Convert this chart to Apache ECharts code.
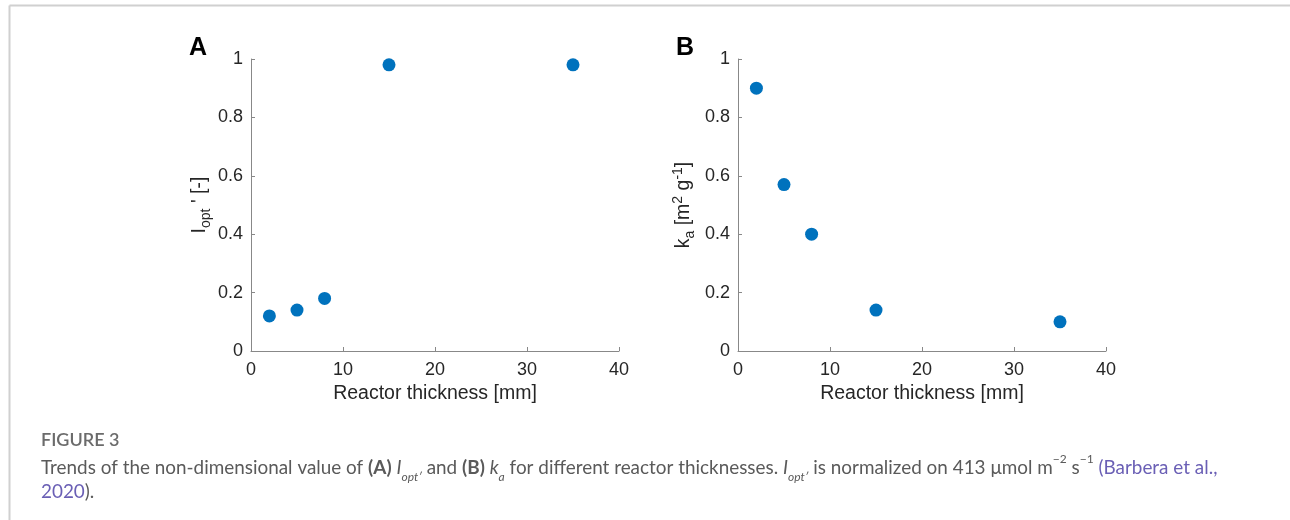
<!DOCTYPE html>
<html lang="en">
<head>
    <meta charset="UTF-8">
    <title>Figure 3</title>
    <script src="https://cdn.jsdelivr.net/npm/echarts@6/dist/echarts.min.js"></script>
    <style>
        body { margin: 0; background: #fff; }
    </style>
</head>
<body>
    <div id="main" style="width: 1290px; height: 520px;"></div>
</body>
</html>

<script>
    var chartDom = document.querySelector('#main')
    const myChart = echarts.init(chartDom)

// 反应器厚度 [mm]
var thickness = [2, 5, 8, 15, 35];
// (A) I_opt'
var iOpt = [0.12, 0.14, 0.18, 0.98, 0.98];
// (B) k_a
var kA = [0.9, 0.57, 0.4, 0.14, 0.1];

var xTicks = [0, 10, 20, 30, 40];
var yTicks = [0, 0.2, 0.4, 0.6, 0.8, 1];

function pairs(xs, ys) {
    var out = [];
    for (var i = 0; i < xs.length; i++) out.push([xs[i], ys[i]]);
    return out;
}

var axisColor = '#888';
var labelColor = '#262626';
var font = 'Liberation Sans, Arial, sans-serif';

function xAxisOf(idx) {
    return {
        gridIndex: idx,
        type: 'value',
        min: xTicks[0],
        max: xTicks[xTicks.length - 1],
        interval: 10,
        name: 'Reactor thickness [mm]',
        nameLocation: 'middle',
        nameGap: 33,
        nameTextStyle: { color: labelColor, fontSize: 19.5, fontFamily: font },
        axisLine: { show: true, lineStyle: { color: axisColor, width: 1 } },
        axisTick: { show: true, inside: true, length: 4, lineStyle: { color: axisColor } },
        axisLabel: { color: labelColor, fontSize: 18, fontFamily: font, margin: 10 },
        splitLine: { show: false }
    };
}

function yAxisOf(idx, nameText, gap) {
    return {
        gridIndex: idx,
        type: 'value',
        min: yTicks[0],
        max: yTicks[yTicks.length - 1],
        interval: 0.2,
        name: nameText,
        nameLocation: 'middle',
        nameRotate: 90,
        nameGap: gap,
        nameTextStyle: {
            color: labelColor, fontSize: 19.5, fontFamily: font,
            rich: {
                s: { fontSize: 14, verticalAlign: 'bottom', color: labelColor, fontFamily: font, padding: [0, 0, -3, 0] },
                p: { fontSize: 14, verticalAlign: 'top', color: labelColor, fontFamily: font, padding: [-3, 0, 0, 0] }
            }
        },
        axisLine: { show: true, lineStyle: { color: axisColor, width: 1 } },
        axisTick: { show: true, inside: true, length: 4, lineStyle: { color: axisColor } },
        axisLabel: {
            color: labelColor, fontSize: 18, fontFamily: font, margin: 8,
            formatter: function (v) { return String(+v.toFixed(1)); }
        },
        splitLine: { show: false }
    };
}

var capFont = 'Lato, sans-serif';
var capColor = '#5a5a5a';

var option = {
    backgroundColor: '#fff',
    animation: false,
    grid: [
        { left: 251, top: 59, width: 368, height: 292 },
        { left: 738, top: 59, width: 368, height: 292 }
    ],
    xAxis: [xAxisOf(0), xAxisOf(1)],
    yAxis: [
        yAxisOf(0, "I{s|opt} ' [-]", 41),
        yAxisOf(1, 'k{s|a} [m{p|2} g{p|-1}]', 44)
    ],
    series: [{
        type: 'scatter',
        xAxisIndex: 0,
        yAxisIndex: 0,
        symbolSize: 13,
        itemStyle: { color: '#0072BD', opacity: 1 },
        data: pairs(thickness, iOpt)
    }, {
        type: 'scatter',
        xAxisIndex: 1,
        yAxisIndex: 1,
        symbolSize: 13,
        itemStyle: { color: '#0072BD', opacity: 1 },
        data: pairs(thickness, kA)
    }],
    graphic: [
        // 外框
        { type: 'line', shape: { x1: 9.5, y1: 5.5, x2: 1290, y2: 5.5 }, style: { stroke: '#d0d0d0', lineWidth: 2 } },
        { type: 'line', shape: { x1: 9.5, y1: 5.5, x2: 9.5, y2: 520 }, style: { stroke: '#d0d0d0', lineWidth: 2 } },
        // 面板字母
        { type: 'text', left: 189, top: 36, style: { text: 'A', font: 'bold 25px ' + font, fill: '#000' } },
        { type: 'text', left: 676, top: 36, style: { text: 'B', font: 'bold 25px ' + font, fill: '#000' } },
        // 图注
        { type: 'text', left: 41, top: 431, style: { text: 'FIGURE 3', font: '600 18px ' + capFont, fill: '#6b6b6b' } },
        {
            type: 'text', left: 41, top: 453,
            style: {
                text: 'Trends of the non-dimensional value of {b|(A)} {i|I}{s|opt\u2032} and {b|(B)} {i|k}{s|a} for different reactor thicknesses. {i|I}{s|opt\u2032} is normalized on 413 \u03bcmol m{p|\u22122} s{p|\u22121} {l|(Barbera et al.,}\n{l|2020}).',
                font: '18.9px ' + capFont,
                fill: capColor,
                lineHeight: 24,
                rich: {
                    b: { font: 'bold 18.9px ' + capFont, fill: capColor, lineHeight: 24 },
                    i: { font: 'italic 18.9px ' + capFont, fill: capColor, lineHeight: 24 },
                    s: { font: 'italic 12px ' + capFont, fill: capColor, verticalAlign: 'bottom', lineHeight: 24, padding: [0, 0, -3, 0] },
                    p: { font: '12px ' + capFont, fill: capColor, verticalAlign: 'top', lineHeight: 24, padding: [-3, 0, 0, 0] },
                    l: { font: '18.9px ' + capFont, fill: '#6a5fb5', lineHeight: 24 }
                }
            }
        }
    ]
};
myChart.setOption(option);
</script>
